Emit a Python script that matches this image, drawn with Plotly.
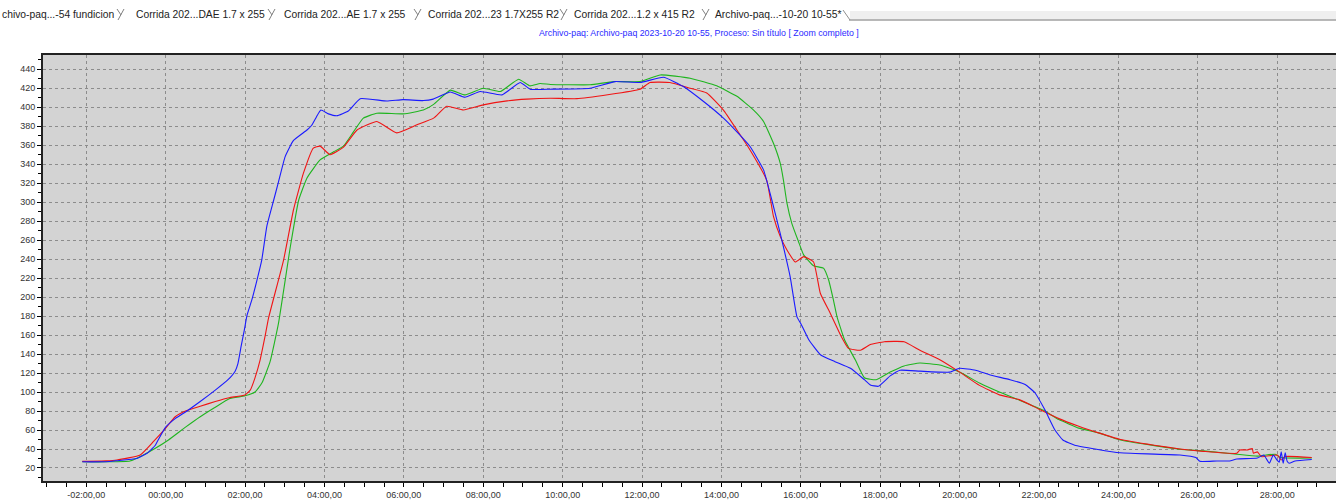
import plotly.graph_objects as go

# ---------------- data (hours, value) ----------------
blue_t = [-2.1, -1.5, -1.23, -0.73, -0.47, -0.26, -0.19, 0.0, 0.24, 0.5, 0.87, 1.25, 1.57, 1.75, 1.82,
          1.9, 1.98, 2.05, 2.17, 2.3, 2.42, 2.55, 2.72, 2.84, 3.01, 3.22, 3.56, 3.68, 3.8, 3.91, 4.1,
          4.31, 4.6, 4.9, 5.57, 5.98, 6.49, 6.74, 7.17, 7.54, 7.92, 8.47, 8.93, 9.18, 9.69, 10.69,
          11.32, 11.95, 12.54, 13.04, 13.55, 14.05, 14.39, 14.72, 15.06, 15.27, 15.48, 15.73, 15.9,
          16.0, 16.2, 16.5, 16.86, 17.25, 17.6, 17.75, 17.95, 18.25, 18.5, 19.0, 19.75, 20.0, 20.4,
          20.77, 21.27, 21.65, 21.9, 22.15, 22.4, 22.6, 22.9, 24.04, 25.55, 25.95, 26.05, 26.48, 26.8,
          26.98, 27.5, 27.66, 27.8, 27.9, 28.0, 28.05, 28.1, 28.15, 28.2, 28.25, 28.3, 28.45, 28.87]
blue_v = [26.5, 26.6, 27.7, 30, 35.5, 44, 49.5, 63, 72, 79, 90, 102, 113, 122, 130,
          148, 165, 181, 197, 218, 239, 275, 302, 321, 348, 365, 376, 381, 390, 397, 393,
          391, 396, 409, 406.5, 408, 407, 408.5, 416, 410.5, 416.5, 413, 426, 419, 419, 420,
          427, 426, 431.5, 421.8, 406, 388.5, 374, 358.6, 334, 302, 267, 221.6, 179.5,
          172, 155, 139, 132, 125, 113, 107.5, 106, 117, 123, 122, 121, 125, 123,
          118, 113, 108, 99, 81, 60, 49.5, 44, 36, 33.7, 31, 27, 27.4, 27.4,
          29.5, 30.5, 33.7, 25, 33.7, 28, 26, 37, 25, 36, 27, 25, 27.4, 29]

red_t = [-2.1, -1.5, -1.23, -0.64, -0.31, 0.0, 0.24, 0.5, 0.87, 1.25, 1.6, 2.0, 2.13, 2.25, 2.38,
         2.5, 2.59, 2.97, 3.22, 3.47, 3.72, 3.89, 4.14, 4.48, 4.82, 5.32, 5.82, 6.33, 6.75, 7.08,
         7.5, 8.0, 8.6, 9.1, 9.69, 10.36, 11.95, 12.2, 12.7, 13.21, 13.63, 14.05, 14.39, 14.72,
         15.14, 15.31, 15.48, 15.65, 15.86, 16.07, 16.32, 16.49, 16.74, 17.0, 17.2, 17.5, 17.75,
         18.1, 18.6, 19.0, 19.5, 20.0, 20.5, 21.0, 21.5, 22.0, 22.5, 23.0, 23.5, 24.05, 24.9,
         25.55, 26.14, 26.98, 27.06, 27.24, 27.37, 27.4, 27.5, 27.6, 28.0, 28.1, 28.2, 28.87]
red_v = [27, 27.5, 28.4, 33.7, 47.7, 62, 74, 80, 85, 90, 94, 97, 102, 115, 134,
         158, 177.7, 239, 292, 330.5, 357, 359, 350, 358, 376, 385, 373, 381.5, 388.5, 401,
         397, 402.5, 406.7, 408.5, 409.5, 409, 419, 426, 426, 420, 415, 397, 376, 355,
         323, 285, 264, 249.7, 237, 242.6, 237, 204, 183, 160, 146, 144, 150,
         153, 153, 144, 134, 121, 107, 97, 92, 82, 72, 64, 57, 50, 44,
         40, 37.5, 35.5, 39, 39, 40.5, 35.5, 37, 32, 33.7, 28.4, 32, 31]

green_t = [-2.1, -1.5, -0.9, -0.56, -0.26, 0.07, 0.5, 0.87, 1.25, 1.6, 2.0, 2.25, 2.43, 2.63, 2.84,
           3.14, 3.35, 3.56, 3.89, 4.23, 4.48, 4.73, 4.98, 5.32, 5.99, 6.49, 6.75, 7.17, 7.54, 8.0,
           8.43, 8.89, 9.18, 9.43, 9.69, 10.69, 11.28, 11.95, 12.46, 13.21, 13.88, 14.39, 14.81,
           15.06, 15.31, 15.48, 15.56, 15.65, 15.77, 15.94, 16.07, 16.32, 16.57, 16.7, 16.82, 16.91,
           17.1, 17.37, 17.6, 17.9, 18.25, 18.6, 19.0, 19.5, 20.0, 20.5, 21.0, 21.5, 22.1, 22.5,
           23.0, 23.5, 24.05, 25.55, 26.14, 26.98, 27.5, 27.95, 28.08, 28.87]
green_v = [26.5, 26.5, 27.4, 33.7, 40.7, 49.5, 63, 74, 84, 93, 96, 100, 110, 132, 172,
           253, 302, 325.5, 344.5, 353, 359, 374, 388.5, 393.7, 393, 397, 403, 418, 413, 420,
           416.5, 429.5, 422.5, 425, 424, 423.6, 427, 427, 434, 430.6, 422.5, 411.5, 397,
           385, 362, 341, 323.5, 299, 278, 258.5, 244.5, 233, 230.5, 218, 197, 179.5,
           155, 134, 115, 113, 121, 127.5, 130.6, 128.5, 121, 109.5, 100, 91.6, 81, 71,
           62, 57, 49.5, 39.7, 38, 34.5, 32.5, 34.5, 31, 30.5]

tick_hours = list(range(-2, 30, 2))
tick_text = [("-" if h < 0 else "") + "%02d:00,00" % abs(h) for h in tick_hours]

tabs = ["chivo-paq...-54 fundicion", "Corrida 202...DAE 1.7 x 255", "Corrida 202...AE 1.7 x 255",
        "Corrida 202...23 1.7X255 R2", "Corrida 202...1.2 x 415 R2", "Archivo-paq...-10-20 10-55*"]
title_text = "Archivo-paq: Archivo-paq 2023-10-20 10-55, Proceso: Sin título [ Zoom completo ]"

# ---------------- layout helpers ----------------
W, H = 1336, 501
L, R, T, B = 43, 0, 55, 20
PW, PH = W - L - R, H - T - B


def px(x):
    return (x - L) / PW


def py(y):
    return (H - B - y) / PH


fig = go.Figure()
for t, v, c in [(green_t, green_v, "#1fb51f"), (red_t, red_v, "#f01414"), (blue_t, blue_v, "#1a1aff")]:
    fig.add_trace(go.Scatter(x=t, y=v, mode="lines", line=dict(color=c, width=1.1, shape="spline", smoothing=0.4),
                             hoverinfo="skip", showlegend=False))

font_tick = dict(family="Liberation Sans, Arial", size=9, color="#333333")

fig.update_xaxes(range=[-3.09, 29.48], tickvals=tick_hours, ticktext=tick_text, automargin=False,
                 ticks="outside", ticklen=4, tickwidth=1, tickcolor="#000",
                 showline=True, linecolor="#222", linewidth=2, mirror=True,
                 showgrid=True, gridcolor="#8c8c8c", gridwidth=1, griddash="3px,3px",
                 zeroline=False, tickfont=font_tick,
                 minor=dict(tick0=0, dtick=0.5, ticks="outside", ticklen=4, tickcolor="#000",
                            showgrid=False))
fig.update_yaxes(range=[6.3, 455], tick0=0, dtick=20, automargin=False,
                 ticks="outside", ticklen=4, tickwidth=1, tickcolor="#000",
                 showline=True, linecolor="#222", linewidth=2, mirror=False,
                 showgrid=True, gridcolor="#8c8c8c", gridwidth=1, griddash="3px,3px",
                 zeroline=False, tickfont=font_tick,
                 minor=dict(tick0=0, dtick=10, ticks="outside", ticklen=3, tickcolor="#000",
                            showgrid=False))

shapes = []
annotations = []
# tab strip background and bottom line
shapes.append(dict(type="rect", xref="paper", yref="paper", x0=px(850), x1=px(W), y0=py(19.5), y1=py(11),
                   fillcolor="#efefef", line=dict(width=0), layer="above"))
shapes.append(dict(type="line", xref="paper", yref="paper", x0=px(849), x1=px(W), y0=py(20), y1=py(20),
                   line=dict(color="#a0a0a0", width=1.5)))
shapes.append(dict(type="line", xref="paper", yref="paper", x0=px(843), x1=px(850), y0=py(10), y1=py(20),
                   line=dict(color="#909090", width=1)))
for sx in [121, 272, 418, 564, 706]:
    shapes.append(dict(type="line", xref="paper", yref="paper", x0=px(sx - 3), x1=px(sx + 3), y0=py(20), y1=py(9),
                       line=dict(color="#808080", width=1)))
    shapes.append(dict(type="line", xref="paper", yref="paper", x0=px(sx - 4), x1=px(sx), y0=py(9), y1=py(15),
                       line=dict(color="#808080", width=1)))

tab_x = [0, 134, 282, 426, 572, 713]
for tx, tt in zip(tab_x, tabs):
    annotations.append(dict(xref="paper", yref="paper", x=px(tx), y=py(14), text=tt, showarrow=False,
                            xanchor="left", yanchor="middle",
                            font=dict(family="Liberation Sans, Arial", size=10.3, color="#222222")))

annotations.append(dict(xref="paper", yref="paper", x=px(699), y=py(33), text=title_text, showarrow=False,
                        xanchor="center", yanchor="middle",
                        font=dict(family="Liberation Sans, Arial", size=8.8, color="#2a2aff")))

fig.update_layout(width=W, height=H, margin=dict(l=L, r=R, t=T, b=B, pad=0),
                  paper_bgcolor="#ffffff", plot_bgcolor="#d3d3d3",
                  shapes=shapes, annotations=annotations, showlegend=False)

fig.write_html("out.html", config={"displayModeBar": False},
               post_script="document.body.style.margin='0';document.body.style.overflow='hidden';")
